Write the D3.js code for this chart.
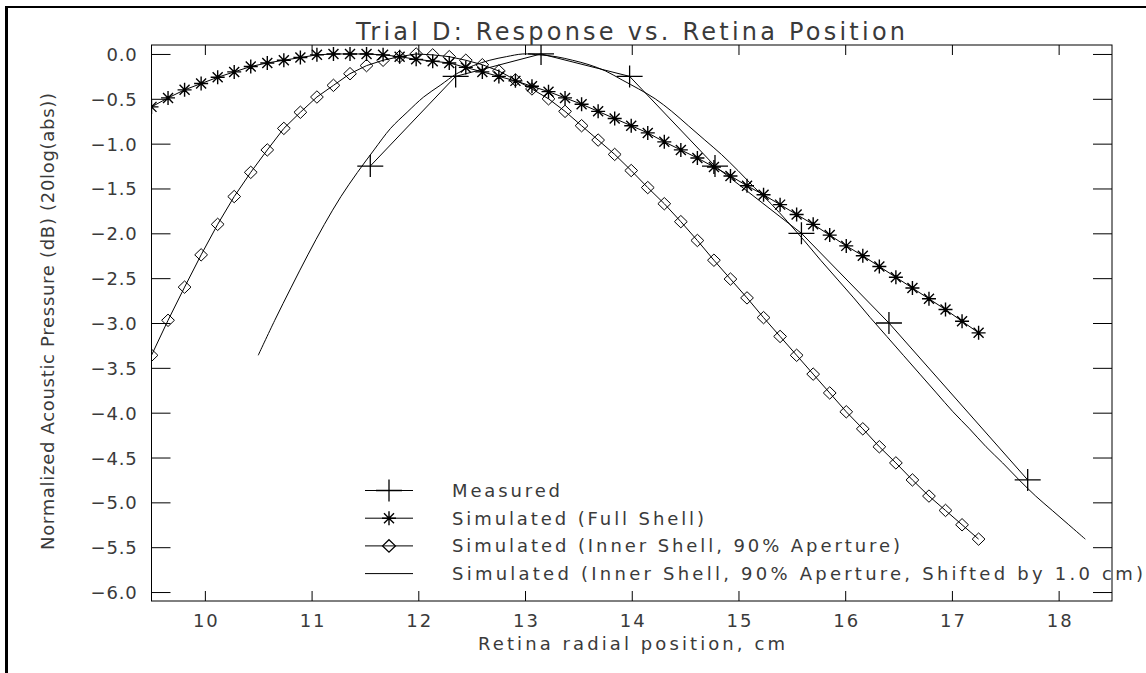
<!DOCTYPE html>
<html>
<head>
<meta charset="utf-8">
<script src="https://cdn.jsdelivr.net/npm/d3@7"></script>
<style>
  html, body { margin: 0; padding: 0; background: #fff; }
  svg { display: block; }
  text { font-family: "DejaVu Sans", "Liberation Sans", sans-serif; font-weight: normal; fill: #3a3a3a; }
</style>
</head>
<body>
<svg id="chart" width="1146" height="673"></svg>
<script>
// Retina radial position grid shared by both simulations (cm)
const positions = [
  9.5, 9.655, 9.81, 9.965, 10.12, 10.275, 10.43, 10.585, 10.74, 10.895,
  11.05, 11.205, 11.36, 11.515, 11.67, 11.825, 11.98, 12.135, 12.29, 12.445,
  12.6, 12.755, 12.91, 13.065, 13.22, 13.375, 13.53, 13.685, 13.84, 13.995,
  14.15, 14.305, 14.46, 14.615, 14.77, 14.925, 15.08, 15.235, 15.39, 15.545,
  15.7, 15.855, 16.01, 16.165, 16.32, 16.475, 16.63, 16.785, 16.94, 17.095,
  17.25
];

// Simulated response, full shell (dB)
const fullShell = [
  -0.59, -0.49, -0.40, -0.33, -0.26, -0.20, -0.14, -0.10, -0.07, -0.04,
  -0.01, 0.00, 0.00, 0.00, -0.01, -0.03, -0.06, -0.08, -0.10, -0.15,
  -0.20, -0.25, -0.30, -0.36, -0.42, -0.49, -0.56, -0.64, -0.72, -0.80,
  -0.88, -0.98, -1.07, -1.16, -1.26, -1.36, -1.47, -1.57, -1.68, -1.79,
  -1.90, -2.02, -2.14, -2.25, -2.37, -2.49, -2.61, -2.73, -2.85, -2.98,
  -3.11
];

// Simulated response, inner shell with 90% aperture (dB)
const innerShell = [
  -3.36, -2.97, -2.60, -2.24, -1.90, -1.59, -1.32, -1.07, -0.83, -0.65,
  -0.48, -0.35, -0.22, -0.13, -0.07, -0.03, 0.00, -0.01, -0.03, -0.07,
  -0.12, -0.19, -0.29, -0.39, -0.50, -0.64, -0.80, -0.96, -1.12, -1.30,
  -1.49, -1.67, -1.87, -2.08, -2.30, -2.51, -2.72, -2.94, -3.15, -3.36,
  -3.57, -3.78, -3.99, -4.18, -4.38, -4.56, -4.75, -4.93, -5.09, -5.25,
  -5.41
];

// Shift applied to the inner-shell curve (cm)
const shiftCm = 1.0;

// Measured response
const measuredX = [11.55, 12.35, 13.15, 13.98, 14.78, 15.59, 16.41, 17.71];
const measuredY = [-1.25, -0.25, 0.00, -0.25, -1.25, -2.00, -3.00, -4.75];

// Axis ticks
const xTicks = [10, 11, 12, 13, 14, 15, 16, 17, 18];
const yTicks = [0, -0.5, -1, -1.5, -2, -2.5, -3, -3.5, -4, -4.5, -5, -5.5, -6];

const titleText = "Trial D: Response vs. Retina Position";
const xLabel = "Retina radial position, cm";
const yLabel = "Normalized Acoustic Pressure (dB) (20log(abs))";
const legendLabels = [
  "Measured",
  "Simulated (Full Shell)",
  "Simulated (Inner Shell, 90% Aperture)",
  "Simulated (Inner Shell, 90% Aperture, Shifted by 1.0 cm)"
];

const svg = d3.select("#chart");
const box = { left: 151.5, right: 1112, top: 45, bottom: 601 };

const x = d3.scaleLinear().domain([9.5, 18.5]).range([box.left, box.right]);
const y = d3.scaleLinear().domain([-6.1, 0.1]).range([box.bottom, box.top]);

// Page frame (left and top edges)
svg.append("rect").attr("x", 5).attr("y", 6).attr("width", 3).attr("height", 667).attr("fill", "#000");
svg.append("rect").attr("x", 5).attr("y", 6).attr("width", 1141).attr("height", 2).attr("fill", "#000");

// Marker shapes
const plusPath = (cx, cy) => `M${cx - 13},${cy}H${cx + 13}M${cx},${cy - 11}V${cy + 11}`;
const starPath = (cx, cy) => {
  const a = 7, d = 5;
  return `M${cx - a},${cy}H${cx + a}M${cx},${cy - a}V${cy + a}` +
         `M${cx - d},${cy - d}L${cx + d},${cy + d}M${cx - d},${cy + d}L${cx + d},${cy - d}`;
};
const diamondPath = (cx, cy) => `M${cx},${cy - 6.2}L${cx + 6.4},${cy}L${cx},${cy + 6.2}L${cx - 6.4},${cy}Z`;

// Clip region for the data
svg.append("clipPath").attr("id", "plot-clip")
  .append("rect")
  .attr("x", box.left).attr("y", box.top)
  .attr("width", box.right - box.left).attr("height", box.bottom - box.top);

const plot = svg.append("g").attr("clip-path", "url(#plot-clip)");
const line = d3.line().x(d => x(d[0])).y(d => y(d[1]));
const smoothLine = d3.line().x(d => x(d[0])).y(d => y(d[1])).curve(d3.curveCatmullRom);

const fullPts = positions.map((p, i) => [p, fullShell[i]]);
const innerPts = positions.map((p, i) => [p, innerShell[i]]);
const shiftedPts = positions.map((p, i) => [p + shiftCm, innerShell[i]]);
const measuredPts = measuredX.map((p, i) => [p, measuredY[i]]);

const stroke = { fill: "none", stroke: "#000", "stroke-width": 1 };
function styled(sel, attrs) { Object.entries(attrs).forEach(([k, v]) => sel.attr(k, v)); return sel; }

// Shifted inner-shell curve (plain line)
styled(plot.append("path").attr("d", smoothLine(shiftedPts)), stroke);

// Inner-shell curve with diamonds
styled(plot.append("path").attr("d", line(innerPts)), stroke);
styled(plot.append("path").attr("d", innerPts.map(d => diamondPath(x(d[0]), y(d[1]))).join("")), stroke);

// Full-shell curve with asterisks
styled(plot.append("path").attr("d", line(fullPts)), stroke);
styled(plot.append("path").attr("d", fullPts.map(d => starPath(x(d[0]), y(d[1]))).join("")), { ...stroke, "stroke-width": 1.4 });

// Measured data with plus markers
styled(plot.append("path").attr("d", line(measuredPts)), stroke);
styled(plot.append("path").attr("d", measuredPts.map(d => plusPath(x(d[0]), y(d[1]))).join("")), { ...stroke, "stroke-width": 1.3 });

// Axes: ticks point inward on all four sides
const fmtY = v => (v === 0 ? "0.0" : "\u2212" + Math.abs(v).toFixed(1));

const gLeft = svg.append("g").attr("transform", `translate(${box.left},0)`)
  .call(d3.axisLeft(y).tickValues(yTicks).tickSize(-19).tickSizeOuter(0).tickPadding(14).tickFormat(fmtY));
const gRight = svg.append("g").attr("transform", `translate(${box.right},0)`)
  .call(d3.axisRight(y).tickValues(yTicks).tickSize(-19).tickSizeOuter(0).tickFormat(""));
const gBottom = svg.append("g").attr("transform", `translate(0,${box.bottom})`)
  .call(d3.axisBottom(x).tickValues(xTicks).tickSize(-10).tickSizeOuter(0).tickPadding(0).tickFormat(d3.format("d")));
const gTop = svg.append("g").attr("transform", `translate(0,${box.top})`)
  .call(d3.axisTop(x).tickValues(xTicks).tickSize(-10).tickSizeOuter(0).tickFormat(""));

[gLeft, gRight, gBottom, gTop].forEach(g => {
  g.attr("font-size", null).attr("font-family", null);
  g.select(".domain").remove();
  g.selectAll(".tick line").attr("stroke", "#000").attr("stroke-width", 1);
});

gLeft.selectAll(".tick text")
  .style("font-size", "18px").attr("letter-spacing", 0.8).attr("dy", "0.36em").attr("fill", null);
gBottom.selectAll(".tick text")
  .style("font-size", "18px").attr("letter-spacing", 2).attr("dy", null).attr("y", 25.7).attr("dx", 1).attr("fill", null);

// Plot frame
svg.append("rect")
  .attr("x", box.left).attr("y", box.top)
  .attr("width", box.right - box.left).attr("height", box.bottom - box.top)
  .attr("fill", "none").attr("stroke", "#000").attr("stroke-width", 1);

// Titles
svg.append("text").attr("x", 356).attr("y", 39.5)
  .style("font-size", "24px").attr("textLength", 549).attr("lengthAdjust", "spacing")
  .text(titleText);
svg.append("text").attr("x", 478).attr("y", 649.5)
  .style("font-size", "18px").attr("textLength", 307).attr("lengthAdjust", "spacing")
  .text(xLabel);
svg.append("text")
  .attr("transform", "translate(54,550) rotate(-90)")
  .style("font-size", "18px").attr("textLength", 457).attr("lengthAdjust", "spacing")
  .text(yLabel);

// Legend
const legendMarks = [plusPath, starPath, diamondPath, null];
const legendWidths = [108, 252, 448, 691];
const legend = svg.append("g");
legendLabels.forEach((label, i) => {
  const ry = 490.5 + i * 27.7;
  styled(legend.append("path").attr("d", `M365,${ry}H413`), stroke);
  if (legendMarks[i]) {
    styled(legend.append("path").attr("d", legendMarks[i](389, ry)), { ...stroke, "stroke-width": i === 1 ? 1.4 : 1.3 });
  }
  legend.append("text").attr("x", 452).attr("y", ry + 6.5)
    .style("font-size", "18px").attr("textLength", legendWidths[i]).attr("lengthAdjust", "spacing")
    .text(label);
});
</script>
</body>
</html>
